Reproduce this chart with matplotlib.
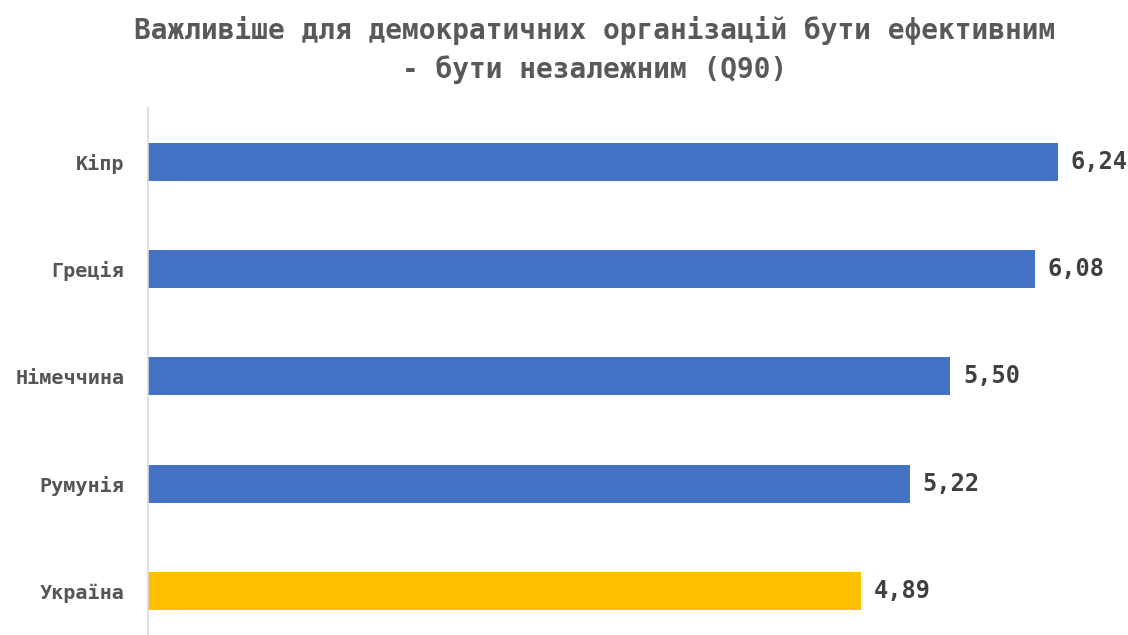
import matplotlib.pyplot as plt

countries = ["Кіпр", "Греція", "Німеччина", "Румунія", "Україна"]
values = [6.24, 6.08, 5.50, 5.22, 4.89]
colors = ["#4472C4", "#4472C4", "#4472C4", "#4472C4", "#FFC000"]
value_labels = ["6,24", "6,08", "5,50", "5,22", "4,89"]

title = "Важливіше для демократичних організацій бути ефективним\n- бути незалежним (Q90)"

plt.rcParams['font.family'] = ['DejaVu Sans Mono']
plt.rcParams['font.weight'] = 'bold'

fig = plt.figure(figsize=(11.28, 6.35), dpi=100)
ax = fig.add_axes([148 / 1128, 0, 1 - 148 / 1128, (635 - 108) / 635])

ypos = list(range(len(countries)))
ax.barh(ypos, values, height=0.355, color=colors)

for y, v, lab in zip(ypos, values, value_labels):
    ax.annotate(lab, (v, y), xytext=(9, 0), textcoords="offset points",
                va="center", ha="left", fontsize=17, fontweight="bold",
                color="#404040")

ax.set_xlim(0, (1128 - 148) / 145.9)
ax.set_ylim(4.41, -0.5)
ax.set_yticks(ypos)
ax.set_yticklabels(countries, fontsize=14.5, fontweight="bold", color="#555555")
ax.tick_params(axis="y", length=0, pad=17)
ax.set_xticks([])

for s in ["top", "right", "bottom"]:
    ax.spines[s].set_visible(False)
ax.spines["left"].set_color("#d9d9d9")
ax.spines["left"].set_linewidth(1.2)

fig.text(595 / 1128, 1 - 50 / 635, title, ha="center", va="center",
         fontsize=20, fontweight="bold", color="#595959", linespacing=1.45)

plt.savefig("out.png", dpi=100)
